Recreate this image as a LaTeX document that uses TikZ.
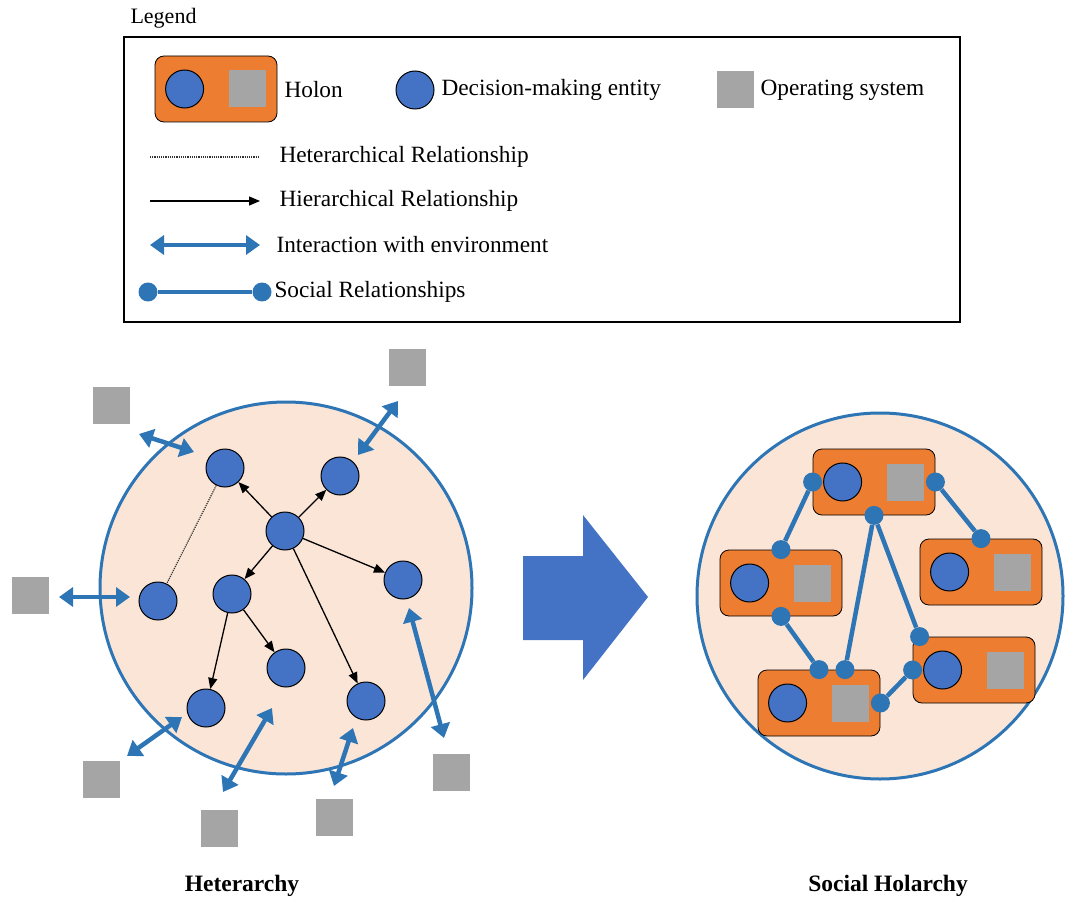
\documentclass[tikz,border=0pt]{standalone}
\usepackage{fontspec}
\setmainfont{Liberation Serif}
\usetikzlibrary{arrows.meta}

\definecolor{dmblue}{HTML}{4472C4}
\definecolor{envblue}{HTML}{2E75B6}
\definecolor{peach}{HTML}{FBE5D6}
\definecolor{holorange}{HTML}{ED7D31}
\definecolor{osgray}{HTML}{A5A5A5}

\tikzset{
  entity/.style={circle, draw=black, fill=dmblue, line width=1pt, minimum size=38pt, inner sep=0pt},
  opsys/.style={rectangle, fill=osgray, minimum size=37pt, inner sep=0pt},
  holonbox/.style={rectangle, rounded corners=9pt, draw=black, fill=holorange, line width=0.8pt, minimum width=122pt, minimum height=66pt},
  hier/.style={-{Triangle[length=11pt,width=9pt]}, line width=1.3pt},
  hetero/.style={dash pattern=on 1.2pt off 1pt, line width=1.2pt, black!80},
  envlink/.style={{Triangle[length=14pt,width=19pt]}-{Triangle[length=14pt,width=19pt]}, envblue, line width=4.5pt},
  social/.style={envblue, line width=4.5pt},
  sdot/.style={circle, fill=envblue, minimum size=19pt, inner sep=0pt},
  legtext/.style={anchor=west, font=\fontsize{23.3}{27}\selectfont},
  title/.style={font=\fontsize{23.5}{27}\selectfont\bfseries}
}

% holon: box with entity and operating system
\newcommand{\holon}[3]{
  \node[holonbox] (#1) at (#2,#3) {};
  \node[entity] (#1c) at ([xshift=30pt]#1.west) {};
  \node[opsys] (#1s) at ([xshift=-30pt]#1.east) {};
}

\begin{document}
\begin{tikzpicture}[x=1pt,y=-1pt]
  \useasboundingbox (0,0) rectangle (1065,909);

  % legend
  \node[legtext, font=\fontsize{22}{26}\selectfont] (legtitle) at (127,18) {Legend};
  \draw[line width=2pt] (124,37) rectangle (960,322);
  \holon{lh}{216}{89}
  \node[legtext] (lhtext) at (281,90) {Holon};
  \node[entity] (lent) at (415,90) {};
  \node[legtext] (lenttext) at (438,90) {Decision-making entity};
  \node[opsys] (los) at (735,90) {};
  \node[legtext] (lostext) at (757,90) {Operating system};
  \coordinate (lha) at (150,157);
  \coordinate (lhb) at (260,157);
  \draw[hetero] (lha) -- (lhb);
  \node[legtext] (lhetero) at (276,157) {Heterarchical Relationship};
  \coordinate (lra) at (150,201);
  \coordinate (lrb) at (260,201);
  \draw[hier] (lra) -- (lrb);
  \node[legtext] (lhier) at (276,201) {Hierarchical Relationship};
  \coordinate (lea) at (150,245);
  \coordinate (leb) at (260,245);
  \draw[envlink] (lea) -- (leb);
  \node[legtext] (lenv) at (273,245) {Interaction with environment};
  \node[sdot] (lsa) at (148,292) {};
  \node[sdot] (lsb) at (262,292) {};
  \draw[social] (lsa) -- (lsb);
  \node[legtext] (lsoc) at (271,292) {Social Relationships};

  % heterarchy
  \draw[envblue, fill=peach, line width=3pt] (286,588) circle (186);
  \node[entity] (a) at (225,468) {};
  \node[entity] (b) at (340,476) {};
  \node[entity] (c) at (285,531) {};
  \node[entity] (d) at (158,601) {};
  \node[entity] (e) at (232,594) {};
  \node[entity] (f) at (403,580) {};
  \node[entity] (g) at (286,668) {};
  \node[entity] (h) at (206,708) {};
  \node[entity] (i) at (366,701) {};
  \draw[hier] (c) -- (a);
  \draw[hier] (c) -- (b);
  \draw[hier] (c) -- (e);
  \draw[hier] (c) -- (f);
  \draw[hier] (c) -- (i);
  \draw[hier] (e) -- (h);
  \draw[hier] (e) -- (g);
  \draw[hetero] (a) -- (d);

  \node[opsys] (s1) at (111,405) {};
  \node[opsys] (s2) at (407,367) {};
  \node[opsys] (s3) at (30,595) {};
  \node[opsys] (s4) at (101,779) {};
  \node[opsys] (s5) at (219,828) {};
  \node[opsys] (s6) at (334,817) {};
  \node[opsys] (s7) at (451,772) {};
  \coordinate (e1a) at (139,434); \coordinate (e1b) at (194,452);
  \coordinate (e2a) at (398,401); \coordinate (e2b) at (358,455);
  \coordinate (e3a) at (59,597);  \coordinate (e3b) at (130,597);
  \coordinate (e4a) at (127,756); \coordinate (e4b) at (182,717);
  \coordinate (e5a) at (223,792); \coordinate (e5b) at (272,708);
  \coordinate (e6a) at (334,786); \coordinate (e6b) at (353,728);
  \coordinate (e7a) at (444,738); \coordinate (e7b) at (409,608);
  \draw[envlink] (e1a) -- (e1b);
  \draw[envlink] (e2a) -- (e2b);
  \draw[envlink] (e3a) -- (e3b);
  \draw[envlink] (e4a) -- (e4b);
  \draw[envlink] (e5a) -- (e5b);
  \draw[envlink] (e6a) -- (e6b);
  \draw[envlink] (e7a) -- (e7b);

  % transition arrow
  \fill[dmblue] (523,556) -- (583,556) -- (583,515) -- (648,597) -- (583,680) -- (583,640) -- (523,640) -- cycle;

  % social holarchy
  \draw[envblue, fill=peach, line width=3pt] (880,596) circle (183);
  \holon{ha}{874}{482}
  \holon{hb}{781}{583}
  \holon{hc}{981}{572}
  \holon{hd}{974}{670}
  \holon{he}{819}{703}
  \node[sdot] (p1) at (ha.west) {};
  \node[sdot] (p2) at (hb.north) {};
  \node[sdot] (p3) at (ha.east) {};
  \node[sdot] (p4) at (hc.north) {};
  \node[sdot] (p5) at (ha.south) {};
  \node[sdot] (p6) at ([xshift=26pt]he.north) {};
  \node[sdot] (p7) at ([xshift=7pt]hd.north west) {};
  \node[sdot] (p8) at (hb.south) {};
  \node[sdot] (p9) at (he.north) {};
  \node[sdot] (p10) at (hd.west) {};
  \node[sdot] (p11) at (he.east) {};
  \draw[social] (p1) -- (p2);
  \draw[social] (p3) -- (p4);
  \draw[social] (p5) -- (p6);
  \draw[social] (p5) -- (p7);
  \draw[social] (p8) -- (p9);
  \draw[social] (p10) -- (p11);

  % titles
  \node[title] (het) at (242,886) {Heterarchy};
  \node[title] (hol) at (888,886) {Social Holarchy};
\end{tikzpicture}
\end{document}
